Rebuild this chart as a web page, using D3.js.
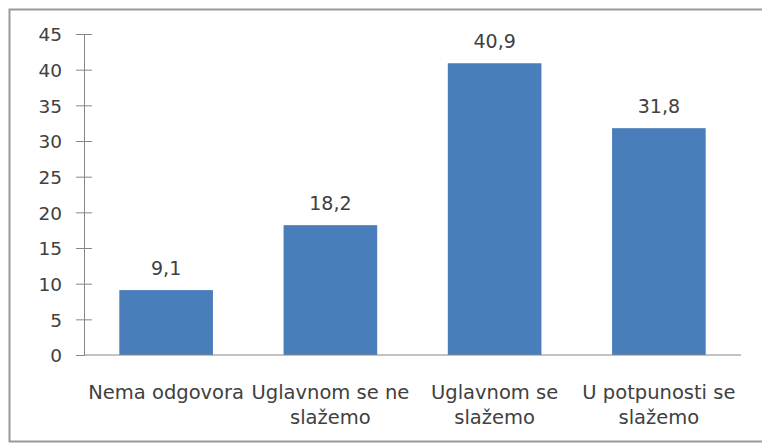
<!DOCTYPE html>
<html>
<head>
<meta charset="utf-8">
<script src="https://cdn.jsdelivr.net/npm/d3@7"></script>
<style>
  body { margin: 0; background: #fff; }
  svg text { font-family: "DejaVu Sans", sans-serif; fill: #404040; }
</style>
</head>
<body>
<svg id="chart" width="762" height="448"></svg>
<script>
// datos del gráfico
const categories = [
  ["Nema odgovora"],
  ["Uglavnom se ne", "slažemo"],
  ["Uglavnom se", "slažemo"],
  ["U potpunosti se", "slažemo"]
];
const values = [9.1, 18.2, 40.9, 31.8];
const yTicks = [0, 5, 10, 15, 20, 25, 30, 35, 40, 45];

const svg = d3.select("#chart");

// marco exterior
svg.append("rect")
  .attr("x", 9.5).attr("y", 9.5)
  .attr("width", 770).attr("height", 432)
  .attr("fill", "none")
  .attr("stroke", "#9a9a9a")
  .attr("stroke-width", 2);

const plotLeft = 84, plotRight = 741, plotTop = 34, plotBottom = 355;

const x = d3.scaleBand()
  .domain(d3.range(categories.length))
  .range([plotLeft, plotRight])
  .paddingInner(0.43)
  .paddingOuter(0.215);

const y = d3.scaleLinear().domain([0, 45]).range([plotBottom, plotTop]);

// eje Y
const yAxis = svg.append("g")
  .attr("transform", `translate(${plotLeft},0)`)
  .call(d3.axisLeft(y).tickValues(yTicks).tickSize(8).tickPadding(14));
yAxis.select(".domain").attr("stroke", "#868686");
yAxis.selectAll(".tick line").attr("stroke", "#868686").attr("x2", 8).attr("x1", -8);
yAxis.selectAll(".tick line").filter(d => d === 0).attr("x2", 0);
yAxis.selectAll("text").style("font-size", "18.5px").attr("dy", "0.36em");

// barras
svg.selectAll(".bar")
  .data(values)
  .enter()
  .append("rect")
  .attr("class", "bar")
  .attr("x", (d, i) => x(i))
  .attr("y", d => y(d))
  .attr("width", x.bandwidth())
  .attr("height", d => plotBottom - y(d))
  .attr("fill", "#4a7ebb");

// etiquetas de valor
svg.selectAll(".val")
  .data(values)
  .enter()
  .append("text")
  .attr("class", "val")
  .attr("x", (d, i) => x(i) + x.bandwidth() / 2)
  .attr("y", d => y(d) - 15)
  .attr("text-anchor", "middle")
  .style("font-size", "19px")
  .text(d => d3.format(".1f")(d).replace(".", ","));

// eje X
svg.append("line")
  .attr("x1", plotLeft).attr("x2", plotRight)
  .attr("y1", plotBottom).attr("y2", plotBottom)
  .attr("stroke", "#868686");

categories.forEach((lines, i) => {
  const t = svg.append("text")
    .attr("x", x(i) + x.bandwidth() / 2)
    .attr("y", 399)
    .attr("text-anchor", "middle")
    .style("font-size", "19.5px");
  lines.forEach((line, j) => {
    t.append("tspan")
      .attr("x", x(i) + x.bandwidth() / 2)
      .attr("dy", j === 0 ? 0 : 25)
      .text(line);
  });
});
</script>
</body>
</html>
